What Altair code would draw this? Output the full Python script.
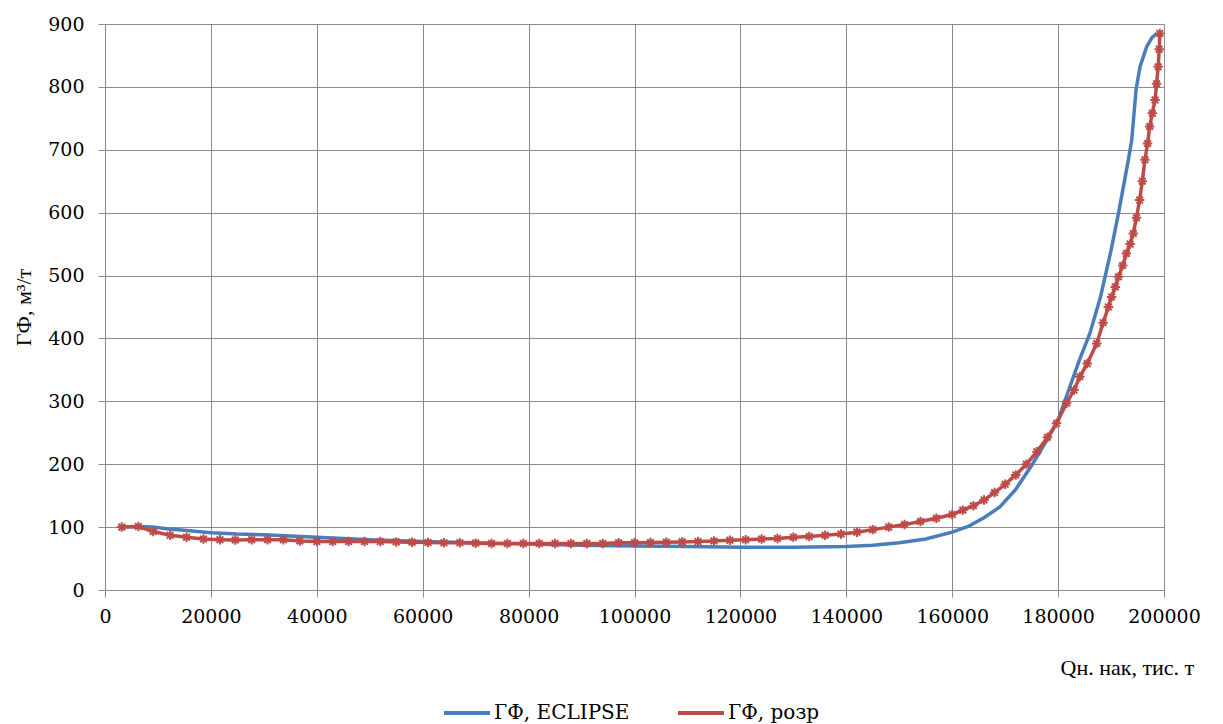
import altair as alt
import pandas as pd

# ГФ, ECLIPSE
blue_x = [3000, 6000, 9000, 12000, 15000, 20000, 25000, 30000, 35000, 40000, 50000, 60000,
          70000, 80000, 90000, 100000, 110000, 120000, 130000, 140000, 145000, 150000, 155000,
          160000, 163000, 166000, 169000, 172000, 175000, 178000, 180000, 182000, 184000,
          186000, 188000, 190000, 191400, 193270, 193900, 194720, 195470, 196730, 197700, 198600]
blue_y = [100, 101, 100, 97, 95, 91, 89, 88, 86, 84, 80, 77,
          75, 73, 71, 70, 69, 68, 68, 69, 71, 75, 81,
          92, 101, 115, 132, 160, 198, 240, 270, 318, 365,
          408, 466, 540, 599, 684, 715, 795, 832, 864, 878, 885]

# ГФ, розр
red_x = [3150, 6300, 9100, 12300, 15400, 18600, 21700, 24600, 27700, 30700, 33700, 36800,
         40000, 43000, 46000, 49000, 52000, 55000, 58000, 61000, 64000, 67000, 70000, 73000,
         76000, 79000, 82000, 85000, 88000, 91000, 94000, 97000, 100000, 103000, 106000,
         109000, 112000, 115000, 118000, 121000, 124000, 127000, 130000, 133000, 136000,
         139000, 142000, 145000, 148000, 151000, 154000, 157000, 160000, 162000, 164000,
         166000, 168000, 170000, 172000, 174000, 176000, 178000, 179700, 181600, 183000,
         184100, 185500, 187300, 188500, 189500, 190100, 190800, 191400, 192200, 192900,
         193600, 194200, 194800, 195400, 195900, 196400, 196900, 197300, 197800, 198300,
         198600, 198900, 199100, 199200]
red_y = [100, 101, 93, 87, 84, 81, 80, 79.5, 80, 80, 80, 78,
         77, 77, 77, 77, 77, 76.5, 76, 75.5, 75, 75, 74.5, 74,
         74, 74, 74, 74, 74, 74, 74, 75, 75, 75.5, 76,
         76.5, 77, 78, 79, 80, 81, 82, 84, 85, 87,
         89, 92, 96, 100, 104, 109, 114, 120, 127, 134,
         143, 155, 168, 183, 200, 220, 243, 265, 297, 318,
         339, 360, 392, 425, 450, 466, 482, 498, 516, 535,
         550, 567, 592, 620, 650, 684, 710, 737, 758, 779,
         805, 832, 860, 885]

series = ["ГФ, ECLIPSE", "ГФ, розр"]
colors = ["#4A7EBB", "#BE4B48"]

df = pd.concat([
    pd.DataFrame({"x": blue_x, "y": blue_y, "s": series[0], "o": range(len(blue_x))}),
    pd.DataFrame({"x": red_x, "y": red_y, "s": series[1], "o": range(len(red_x))}),
])
df_red = df[df["s"] == series[1]]

FONT = "Liberation Serif"
LFONT = "DejaVu Serif"

xenc = alt.X("x:Q", scale=alt.Scale(domain=[0, 200000], nice=False),
             axis=alt.Axis(values=list(range(0, 200001, 20000)), format="d",
                           labelFont=LFONT, labelFontSize=19, labelPadding=10,
                           labelColor="black", labelOverlap=False, labelFlush=False,
                           title="Qн. нак, тис. т", titleX=955, titleY=84,
                           titleAlign="left", titleAnchor="start", titleBaseline="alphabetic",
                           titleFontWeight="normal", titleFontSize=22, titleFont=FONT,
                           titleColor="black"))
yenc = alt.Y("y:Q", scale=alt.Scale(domain=[0, 900], nice=False),
             axis=alt.Axis(values=list(range(0, 901, 100)), title="ГФ, м³/т",
                           labelFont=LFONT, labelFontSize=19, labelPadding=14,
                           labelColor="black", labelOverlap=False, labelFlush=False,
                           titleFontWeight="normal", titleFontSize=22, titleFont=FONT,
                           titleColor="black", titlePadding=12))

lines = alt.Chart(df).mark_line(strokeWidth=3.5).encode(
    x=xenc, y=yenc,
    order="o:Q",
    color=alt.Color("s:N", scale=alt.Scale(domain=series, range=colors),
                    legend=alt.Legend(title=None, orient="none", direction="horizontal",
                                      legendX=337, legendY=664, symbolType="stroke",
                                      symbolSize=2116, symbolStrokeWidth=4,
                                      labelFont=LFONT, labelFontSize=20, labelLimit=0,
                                      labelColor="black",
                                      labelOffset=2, columnPadding=40, padding=0)),
)

star = "M-1,0L1,0M0,-1L0,1M-0.7,-0.7L0.7,0.7M-0.7,0.7L0.7,-0.7"
points = alt.Chart(df_red).mark_point(shape=star, filled=False, size=90,
                                      stroke="#BE4B48", strokeWidth=2, opacity=1).encode(
    x="x:Q", y="y:Q")

chart = alt.layer(lines, points).properties(
    width=1059, height=566,
    background="white",
    autosize=alt.AutoSizeParams(type="none"),
    padding={"left": 105, "top": 24, "right": 59, "bottom": 134},
).configure_view(
    stroke="#8c8c8c", strokeWidth=1
).configure_axis(
    gridColor="#8c8c8c", gridWidth=1, gridOpacity=1,
    domainColor="#8c8c8c", domainWidth=1,
    tickColor="#8c8c8c", tickSize=7, tickWidth=1,
)

chart.save("out.html", embed_options={"renderer": "svg", "actions": False})
